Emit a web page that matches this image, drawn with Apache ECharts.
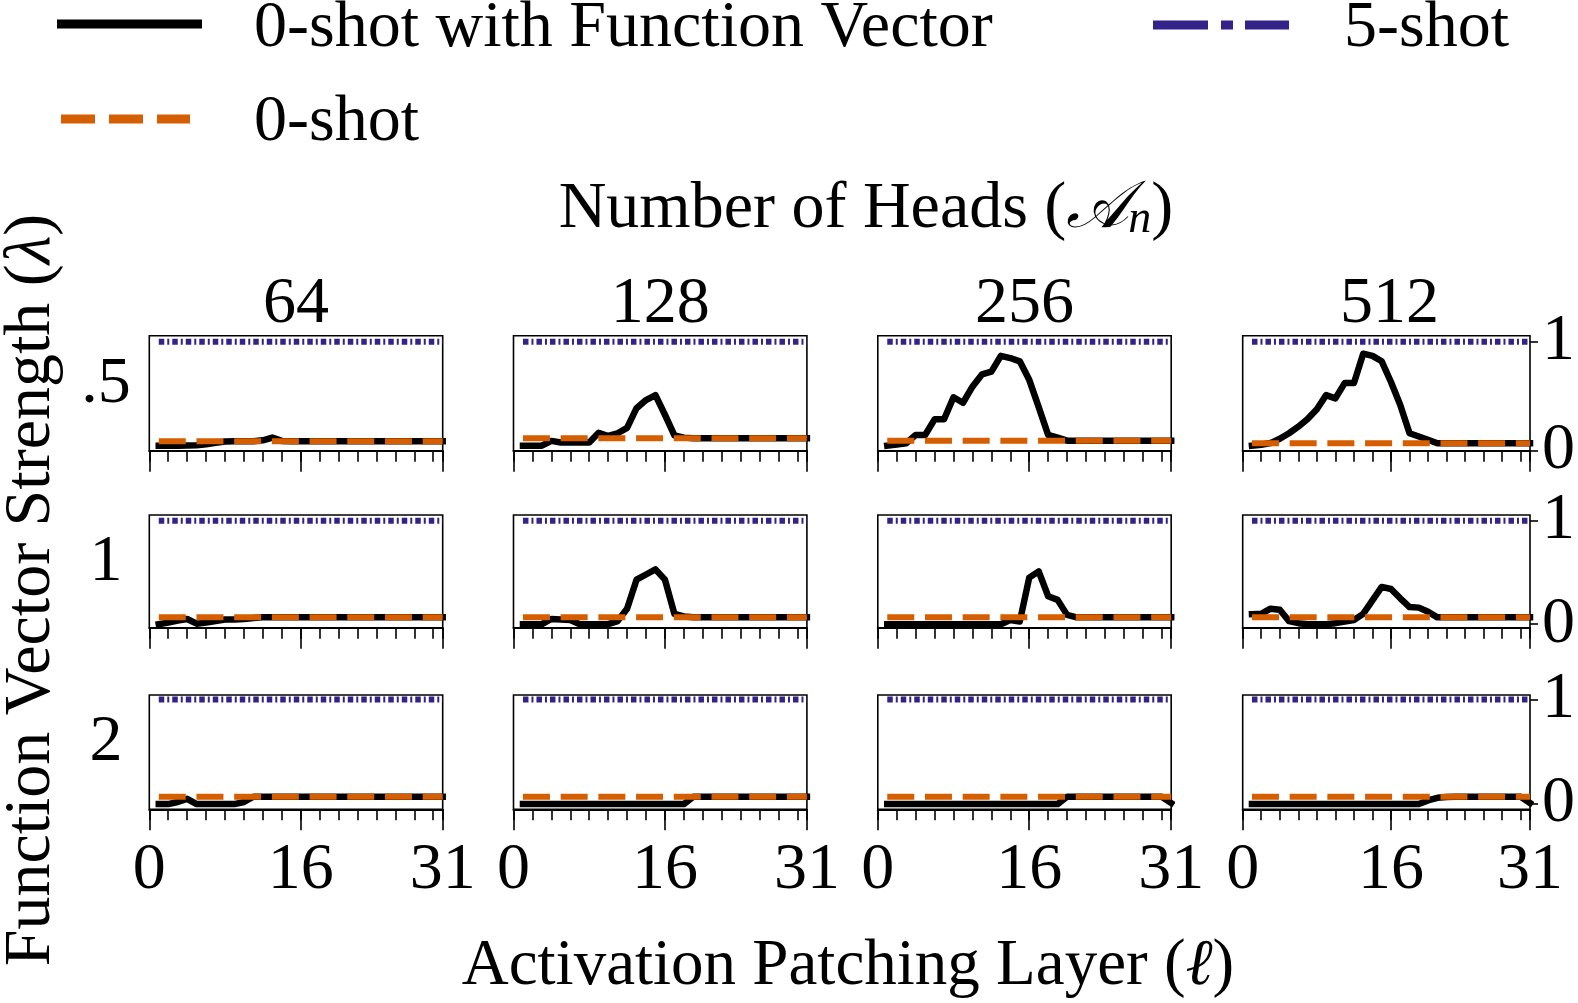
<!DOCTYPE html>
<html>
<head>
<meta charset="utf-8">
<script src="https://cdn.jsdelivr.net/npm/echarts@6/dist/echarts.min.js"></script>
<style>
  html, body { margin: 0; padding: 0; background: #ffffff; }
  #chart { width: 1578px; height: 1003px; }
</style>
</head>
<body>
<div id="chart"></div>
<script>
// ---------------- data ----------------
const layers = [1,2,3,4,5,6,7,8,9,10,11,12,13,14,15,16,17,18,19,20,21,22,23,24,25,26,27,28,29,30,31];
const headCounts = ['64', '128', '256', '512'];
const strengthLabels = ['.5', '1', '2'];
const xTickMinor = [0,2,4,6,8,10,12,14,16,18,20,22,24,26,28,30,31];
const xTickMajor = [0, 16, 31];
const yTickValues = [0, 1];

// 0-shot with Function Vector, lambda = .5
const fvS05H64  = [0.045,0.045,0.045,0.047,0.050,0.060,0.072,0.085,0.087,0.087,0.087,0.095,0.120,0.090,0.087,0.087,0.087,0.087,0.087,0.087,0.087,0.087,0.087,0.087,0.087,0.087,0.087,0.087,0.087,0.087,0.087];
const fvS05H128 = [0.046,0.046,0.046,0.090,0.075,0.075,0.075,0.075,0.165,0.135,0.160,0.210,0.390,0.465,0.510,0.330,0.140,0.120,0.114,0.114,0.114,0.114,0.114,0.114,0.114,0.114,0.114,0.114,0.114,0.114,0.114];
const fvS05H256 = [0.046,0.057,0.068,0.144,0.144,0.288,0.288,0.490,0.440,0.587,0.700,0.725,0.870,0.850,0.820,0.650,0.400,0.144,0.120,0.092,0.092,0.092,0.092,0.092,0.092,0.092,0.092,0.092,0.092,0.092,0.092];
const fvS05H512 = [0.046,0.055,0.070,0.110,0.160,0.220,0.290,0.380,0.510,0.480,0.620,0.620,0.890,0.870,0.820,0.630,0.420,0.160,0.130,0.100,0.068,0.068,0.068,0.068,0.068,0.068,0.068,0.068,0.068,0.068,0.068];
// lambda = 1
const fvS1H64   = [0.000,0.015,0.035,0.050,0.005,0.015,0.030,0.045,0.045,0.050,0.060,0.066,0.066,0.066,0.066,0.066,0.066,0.066,0.066,0.066,0.066,0.066,0.066,0.066,0.066,0.066,0.066,0.066,0.066,0.066,0.066];
const fvS1H128  = [0.000,0.000,0.000,0.050,0.045,0.040,0.000,0.000,0.000,0.000,0.030,0.150,0.430,0.480,0.530,0.430,0.100,0.075,0.068,0.068,0.068,0.068,0.068,0.068,0.068,0.068,0.068,0.068,0.068,0.068,0.068];
const fvS1H256  = [0.000,0.000,0.000,0.000,0.000,0.000,0.000,0.000,0.000,0.000,0.000,0.000,0.000,0.040,0.025,0.450,0.510,0.270,0.235,0.090,0.066,0.066,0.066,0.066,0.066,0.066,0.066,0.066,0.066,0.066,0.066];
const fvS1H512  = [0.097,0.100,0.150,0.140,0.030,0.010,0.000,0.000,0.000,0.010,0.025,0.040,0.100,0.230,0.360,0.340,0.250,0.165,0.160,0.120,0.066,0.066,0.066,0.066,0.066,0.066,0.066,0.066,0.066,0.066,0.066];
// lambda = 2
const fvS2H64   = [0.000,0.000,0.020,0.050,0.000,0.000,0.000,0.000,0.000,0.020,0.070,0.070,0.070,0.070,0.070,0.070,0.070,0.070,0.070,0.070,0.070,0.070,0.070,0.070,0.070,0.070,0.070,0.070,0.070,0.070,0.070];
const fvS2H128  = [0.000,0.000,0.000,0.000,0.000,0.000,0.000,0.000,0.000,0.000,0.000,0.000,0.000,0.000,0.000,0.000,0.000,0.000,0.070,0.070,0.070,0.070,0.070,0.070,0.070,0.070,0.070,0.070,0.070,0.070,0.070];
const fvS2H256  = [0.000,0.000,0.000,0.000,0.000,0.000,0.000,0.000,0.000,0.000,0.000,0.000,0.000,0.000,0.000,0.000,0.000,0.000,0.000,0.070,0.070,0.070,0.070,0.070,0.070,0.070,0.070,0.070,0.070,0.070,0.010];
const fvS2H512  = [0.000,0.000,0.000,0.000,0.000,0.000,0.000,0.000,0.000,0.000,0.000,0.000,0.000,0.000,0.000,0.000,0.000,0.000,0.000,0.035,0.060,0.068,0.070,0.070,0.070,0.070,0.070,0.070,0.070,0.070,0.010];

// 0-shot and 5-shot baselines per panel (columns: 64, 128, 256, 512 heads)
const zeroShotS05 = [0.087, 0.114, 0.092, 0.068];
const zeroShotS1  = [0.066, 0.068, 0.066, 0.066];
const zeroShotS2  = [0.070, 0.070, 0.070, 0.070];
const fiveShotS05 = [1.0, 1.0, 1.0, 1.0];
const fiveShotS1  = [1.0, 1.0, 1.0, 1.0];
const fiveShotS2  = [1.0, 1.0, 1.0, 1.0];

const fvRows = [
  [fvS05H64, fvS05H128, fvS05H256, fvS05H512],
  [fvS1H64,  fvS1H128,  fvS1H256,  fvS1H512],
  [fvS2H64,  fvS2H128,  fvS2H256,  fvS2H512]
];
const zeroRows = [zeroShotS05, zeroShotS1, zeroShotS2];
const fiveRows = [fiveShotS05, fiveShotS1, fiveShotS2];

// ---------------- layout / style ----------------
const FONT = '"Liberation Serif", "DejaVu Serif", serif';
const BLACK = '#000000';
const ORANGE = '#D55E00';
const BLUE = '#332288';
const gridLefts = [149.3, 513.5, 877.8, 1242.7];
const gridW = 293.4;
const gridTops = [335.7, 515, 695];
const gridHs = [115, 112.7, 114.3];
const yRanges = [[0, 1.055], [-0.034, 1.055], [-0.05, 1.044]];

const grids = [], xAxes = [], yAxes = [], series = [];
for (let r = 0; r < 3; r++) {
  for (let c = 0; c < 4; c++) {
    const gi = r * 4 + c;
    grids.push({
      left: gridLefts[c], top: gridTops[r], width: gridW, height: gridHs[r],
      show: true, borderColor: BLACK, borderWidth: 1.6, backgroundColor: 'transparent',
      containLabel: false
    });
    // bottom axis: minor ticks + labels
    xAxes.push({
      type: 'value', gridIndex: gi, position: 'bottom', min: 0, max: 31,
      axisLine: { show: true, onZero: false, lineStyle: { color: BLACK, width: 2 } },
      axisTick: { show: true, customValues: xTickMinor, length: 11, lineStyle: { color: BLACK, width: 1.6 } },
      axisLabel: {
        show: r === 2, customValues: xTickMajor, margin: 28,
        fontSize: 66, lineHeight: 66, fontFamily: FONT, color: BLACK
      },
      splitLine: { show: false }
    });
    // helper axis moved onto the bottom edge: long major ticks
    xAxes.push({
      type: 'value', gridIndex: gi, position: 'top', offset: -gridHs[r], min: 0, max: 31,
      axisLine: { show: false, onZero: false },
      axisTick: { show: true, inside: true, customValues: xTickMajor, length: 21, lineStyle: { color: BLACK, width: 1.6 } },
      axisLabel: { show: false },
      splitLine: { show: false }
    });
    yAxes.push({
      type: 'value', gridIndex: gi, position: 'right', min: yRanges[r][0], max: yRanges[r][1],
      show: c === 3,
      axisLine: { show: false, onZero: false },
      axisTick: { show: true, customValues: yTickValues, length: 8, lineStyle: { color: BLACK, width: 1.6 } },
      axisLabel: {
        show: true, customValues: yTickValues, margin: 12,
        fontSize: 66, lineHeight: 66, fontFamily: FONT, color: BLACK
      },
      splitLine: { show: false }
    });
    const xi = gi * 2;
    series.push({
      name: '0-shot with Function Vector', type: 'line', xAxisIndex: xi, yAxisIndex: gi,
      data: layers.map((l, k) => [l, fvRows[r][c][k]]),
      symbol: 'none', silent: true,
      lineStyle: { color: BLACK, width: 6.5, cap: 'square', join: 'round' }
    });
    series.push({
      name: '0-shot', type: 'line', xAxisIndex: xi, yAxisIndex: gi,
      data: layers.map(l => [l, zeroRows[r][c]]),
      symbol: 'none', silent: true,
      lineStyle: { color: ORANGE, width: 6, type: [27, 10.7] }
    });
    series.push({
      name: '5-shot', type: 'line', xAxisIndex: xi, yAxisIndex: gi,
      data: layers.map(l => [l, fiveRows[r][c]]),
      symbol: 'none', silent: true,
      lineStyle: { color: BLUE, width: 6, type: [5.5, 3, 2, 3] }
    });
  }
}

const txt = (text, x, y, align, extra) => Object.assign({
  type: 'text', x: x, y: y, silent: true,
  style: { text: text, fill: BLACK, fontSize: 66, fontFamily: FONT, align: align || 'center', verticalAlign: 'middle' }
}, extra || {});

const graphics = [
  // legend handles
  { type: 'line', silent: true, shape: { x1: 57, y1: 24, x2: 202, y2: 24 }, style: { stroke: BLACK, lineWidth: 9 } },
  { type: 'line', silent: true, shape: { x1: 61, y1: 119, x2: 190, y2: 119 }, style: { stroke: ORANGE, lineWidth: 9, lineDash: [34, 14] } },
  { type: 'line', silent: true, shape: { x1: 1153, y1: 25, x2: 1289, y2: 25 }, style: { stroke: BLUE, lineWidth: 9, lineDash: [55, 13, 12, 12] } },
  txt('0-shot with Function Vector', 254, 29, 'left'),
  txt('0-shot', 254, 123, 'left'),
  txt('5-shot', 1344, 29, 'left'),
  {
    type: 'text', x: 866, y: 210, silent: true,
    style: {
      text: '{t|Number of Heads (}{m|𝒜}{s|n}{t|)}',
      align: 'center', verticalAlign: 'middle', fill: BLACK,
      rich: {
        t: { fontSize: 66, lineHeight: 66, fontFamily: FONT, fill: BLACK },
        m: { fontSize: 66, lineHeight: 66, fontFamily: FONT, fontStyle: 'italic', fill: BLACK },
        s: { fontSize: 46, lineHeight: 40, fontFamily: FONT, fontStyle: 'italic', fill: BLACK, verticalAlign: 'bottom' }
      }
    }
  },
  {
    type: 'text', x: 848, y: 967, silent: true,
    style: {
      text: '{t|Activation Patching Layer (}{i|ℓ}{t|)}',
      align: 'center', verticalAlign: 'middle', fill: BLACK,
      rich: {
        t: { fontSize: 65, lineHeight: 66, fontFamily: FONT, fill: BLACK },
        i: { fontSize: 65, lineHeight: 66, fontFamily: FONT, fontStyle: 'italic', fill: BLACK }
      }
    }
  },
  {
    type: 'text', x: 32, y: 590, rotation: Math.PI / 2, silent: true,
    style: {
      text: '{t|Function Vector Strength (}{i|λ}{t|)}',
      align: 'center', verticalAlign: 'middle', fill: BLACK,
      rich: {
        t: { fontSize: 66, lineHeight: 66, fontFamily: FONT, fill: BLACK },
        i: { fontSize: 66, lineHeight: 66, fontFamily: FONT, fontStyle: 'italic', fill: BLACK }
      }
    }
  }
];
for (let c = 0; c < 4; c++) graphics.push(txt(headCounts[c], gridLefts[c] + gridW / 2, 305, 'center'));
const rowLabelY = [385, 563, 743];
for (let r = 0; r < 3; r++) graphics.push(txt(strengthLabels[r], 106, rowLabelY[r], 'center'));

const chart = echarts.init(document.getElementById('chart'), null, { renderer: 'canvas' });
chart.setOption({
  animation: false,
  backgroundColor: '#ffffff',
  grid: grids,
  xAxis: xAxes,
  yAxis: yAxes,
  series: series,
  graphic: { elements: graphics }
});
</script>
</body>
</html>
